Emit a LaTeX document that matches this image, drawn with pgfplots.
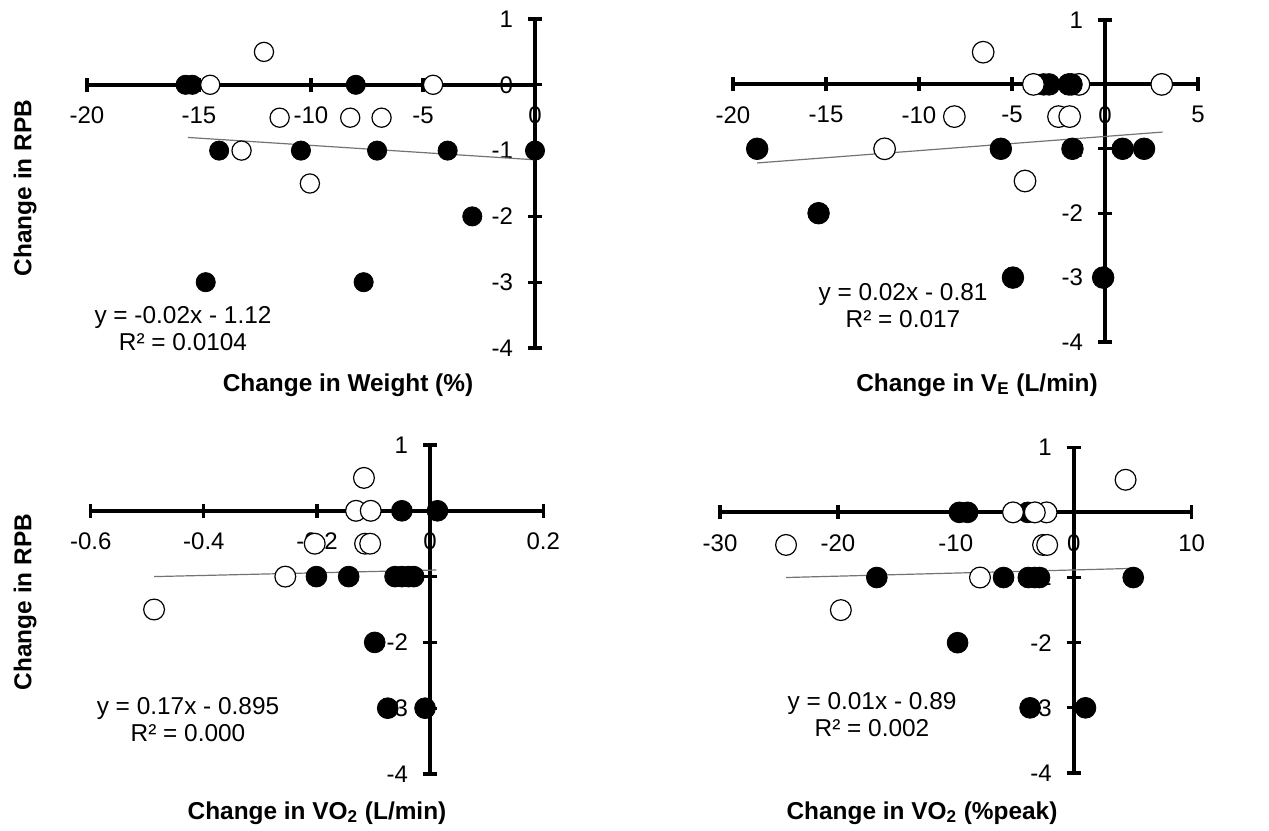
\documentclass[border=0pt]{standalone}
\usepackage{fontspec}
\setmainfont{Liberation Sans}
\usepackage{pgfplots}
\pgfplotsset{compat=1.18}

\pgfplotsset{
  panel/.style={
    scale only axis, axis lines=middle, axis line style={line width=2pt,-},
    every tick/.style={black, line width=1.6pt},
    major tick length=7pt, tick align=center,
    hide obscured x ticks=false, hide obscured y ticks=false,
    ytick={-4,...,1},
    tick label style={font=\fontsize{12}{13}\selectfont},
    xticklabel style={yshift=-4pt},
    yticklabel style={xshift=-4pt},
    /pgf/number format/assume math mode=true,
    clip=false, anchor=south west, ymin=-4, ymax=1,
  },
  open/.style={only marks, mark=*, mark options={fill=white, draw=black, line width=0.6pt}},
  filled/.style={only marks, mark=*, mark options={fill=black, draw=black}},
  trend/.style={no marks, black!55, line width=0.6pt},
}
\newcommand{\lab}{\fontsize{12.2}{14}\selectfont\bfseries}
\newcommand{\eqf}{\fontsize{12.2}{13.5}\selectfont}

\begin{document}
\begin{tikzpicture}
\useasboundingbox (0,0) rectangle (634.5pt,415pt);

% weight
\begin{axis}[panel, at={(43.5pt,241pt)}, width=224pt, height=164.5pt,
  xmin=-20, xmax=0, xtick={-20,-15,-10,-5,0}, mark size=4.8pt]
  \addplot[trend] coordinates {(-15.5,-0.8)(0,-1.14)};
  \addplot[filled] coordinates {
    (-15.6,0)(-15.3,0)(-8,0)(-14.1,-1)(-10.45,-1)(-7.05,-1)(-3.9,-1)(0,-1)
    (-2.8,-2)(-14.7,-3)(-7.65,-3)};
  \addplot[open] coordinates {
    (-14.5,0)(-4.55,0)(-12.1,0.5)(-11.4,-0.5)(-8.25,-0.5)(-6.85,-0.5)
    (-13.1,-1)(-10.05,-1.5)};
\end{axis}

% VE
\begin{axis}[panel, at={(366.5pt,244pt)}, width=232.5pt, height=161pt,
  xmin=-20, xmax=5, xtick={-20,-15,-10,-5,0,5}, mark size=5.4pt]
  \addplot[trend] coordinates {(-18.7,-1.22)(3.1,-0.74)};
  \addplot[open] coordinates {(-1.4,0)};
  \addplot[filled] coordinates {
    (-18.7,-1)(-15.4,-2)(-5.6,-1)(-4.95,-3)(-3.3,0)(-3.0,0)(-1.95,0)(-1.8,0)
    (-1.75,-1)(0.95,-1)(2.1,-1)(-0.1,-3)};
  \addplot[open] coordinates {
    (-6.55,0.5)(-3.85,0)(3.05,0)(-8.1,-0.5)(-2.5,-0.5)(-1.9,-0.5)
    (-11.85,-1)(-4.3,-1.5)};
\end{axis}

% VO2 L/min
\begin{axis}[panel, at={(45.35pt,28pt)}, width=226.3pt, height=164.5pt,
  xmin=-0.6, xmax=0.2, xtick={-0.6,-0.4,-0.2,0,0.2}, mark size=5.2pt]
  \addplot[trend] coordinates {(-0.488,-1.0)(0.011,-0.9)};
  \addplot[filled] coordinates {
    (-0.05,0)(0.013,0)(-0.201,-1)(-0.144,-1)(-0.062,-1)(-0.05,-1)(-0.038,-1)
    (-0.029,-1)(-0.098,-2)(-0.075,-3)(-0.009,-3)};
  \addplot[open] coordinates {
    (-0.117,0.5)(-0.131,0)(-0.105,0)(-0.204,-0.5)(-0.115,-0.5)(-0.106,-0.5)
    (-0.256,-1)(-0.488,-1.5)};
\end{axis}

% VO2 %peak
\begin{axis}[panel, at={(360pt,28.5pt)}, width=235.8pt, height=162.9pt,
  xmin=-30, xmax=10, xtick={-30,-20,-10,0,10}, mark size=5.2pt]
  \addplot[trend] coordinates {(-24.4,-1.0)(5.0,-0.86)};
  \addplot[open] coordinates {(-2.3,0)};
  \addplot[filled] coordinates {
    (-9.7,0)(-9.0,0)(-3.9,0)(-16.7,-1)(-5.95,-1)(-3.85,-1)(-3.3,-1)(-2.9,-1)
    (5.05,-1)(-9.85,-2)(-3.7,-3)(1.0,-3)};
  \addplot[open] coordinates {
    (4.4,0.5)(-5.15,0)(-3.3,0)(-24.4,-0.5)(-2.6,-0.5)(-2.25,-0.5)
    (-7.95,-1)(-19.75,-1.5)};
\end{axis}

\node[font=\lab] at (174pt,222.5pt) {Change in Weight (\%)};
\node[font=\lab] at (488.5pt,222.5pt) {Change in V\textsubscript{E} (L/min)};
\node[font=\lab] at (158.5pt,8.5pt) {Change in VO\textsubscript{2} (L/min)};
\node[font=\lab] at (461pt,8.5pt) {Change in VO\textsubscript{2} (\%peak)};
\node[font=\lab, rotate=90] at (12.5pt,321pt) {Change in RPB};
\node[font=\lab, rotate=90] at (12.5pt,114pt) {Change in RPB};

\node[font=\eqf, align=center] at (91.5pt,250.75pt) {y = -0.02x - 1.12\\R² = 0.0104};
\node[font=\eqf, align=center] at (451.5pt,262.25pt) {y = 0.02x - 0.81\\R² = 0.017};
\node[font=\eqf, align=center] at (94pt,55.25pt) {y = 0.17x - 0.895\\R² = 0.000};
\node[font=\eqf, align=center] at (436pt,57.5pt) {y = 0.01x - 0.89\\R² = 0.002};
\end{tikzpicture}
\end{document}
